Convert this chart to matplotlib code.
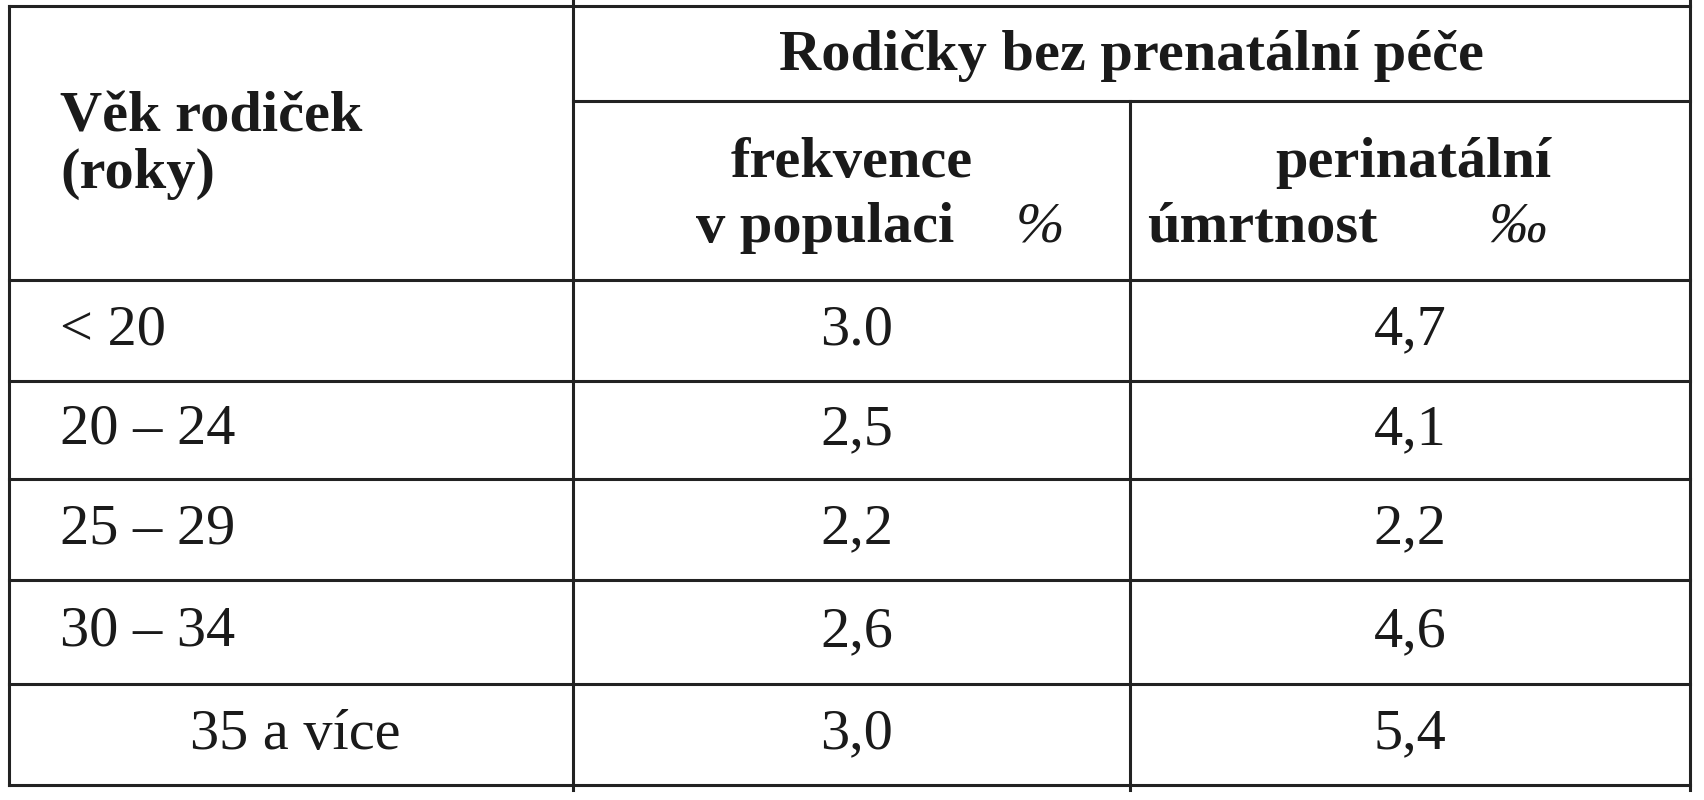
import matplotlib.pyplot as plt

plt.rcParams['font.family'] = ['Liberation Serif', 'DejaVu Serif']

age_groups = ["< 20", "20 – 24", "25 – 29", "30 – 34", "35 a více"]
frekvence = ["3.0", "2,5", "2,2", "2,6", "3,0"]
umrtnost = ["4,7", "4,1", "2,2", "4,6", "5,4"]

W, H = 1704, 800
fig = plt.figure(figsize=(W / 100, H / 100), dpi=100)
ax = fig.add_axes([0, 0, 1, 1])
ax.set_xlim(0, W)
ax.set_ylim(H, 0)
ax.axis('off')

lw = 2.2
c = '#222222'
x0, x1, x2, x3 = 9, 573, 1130, 1690
row_lines = [280, 381, 479, 580, 684, 785]

ax.plot([x0, x3], [6, 6], color=c, lw=lw)
ax.plot([x1, x3], [101, 101], color=c, lw=lw)
for y in row_lines:
    ax.plot([x0, x3], [y, y], color=c, lw=lw)
ax.plot([x0, x0], [6, 785], color=c, lw=lw)
ax.plot([x1, x1], [0, 790], color=c, lw=lw)
ax.plot([x2, x2], [101, 790], color=c, lw=lw)
ax.plot([x3, x3], [0, 790], color=c, lw=lw)

fs = 42
tc = '#1a1a1a'
ax.text(60, 117, "Věk rodiček", fontsize=fs, fontweight='bold', va='center', color=tc)
ax.text(60, 174, "(roky)", fontsize=fs, fontweight='bold', va='center', color=tc)
ax.text((x1 + x3) / 2, 56, "Rodičky bez prenatální péče", fontsize=fs, fontweight='bold',
        ha='center', va='center', color=tc)
ax.text((x1 + x2) / 2, 163, "frekvence", fontsize=fs, fontweight='bold', ha='center', va='center', color=tc)
ax.text(696, 228, "v populaci", fontsize=fs, fontweight='bold', va='center', color=tc)
ax.text(1016, 228, "%", fontsize=fs, style='italic', va='center', color=tc)
ax.text(1413, 163, "perinatální", fontsize=fs, fontweight='bold', ha='center', va='center', color=tc)
ax.text(1262, 228, "úmrtnost", fontsize=fs, fontweight='bold', ha='center', va='center', color=tc)
ax.text(1518, 228, "‰", fontsize=fs, style='italic', ha='center', va='center', color=tc)

centers = [(row_lines[i] + row_lines[i + 1]) / 2 for i in range(5)]
for i, y in enumerate(centers):
    lx = 190 if i == 4 else 60
    ax.text(lx, y, age_groups[i], fontsize=fs, va='center', color=tc)
    ax.text((x1 + x2) / 2 + 5, y, frekvence[i], fontsize=fs, ha='center', va='center', color=tc)
    ax.text((x2 + x3) / 2, y, umrtnost[i], fontsize=fs, ha='center', va='center', color=tc)

fig.savefig("out.png", dpi=100)
